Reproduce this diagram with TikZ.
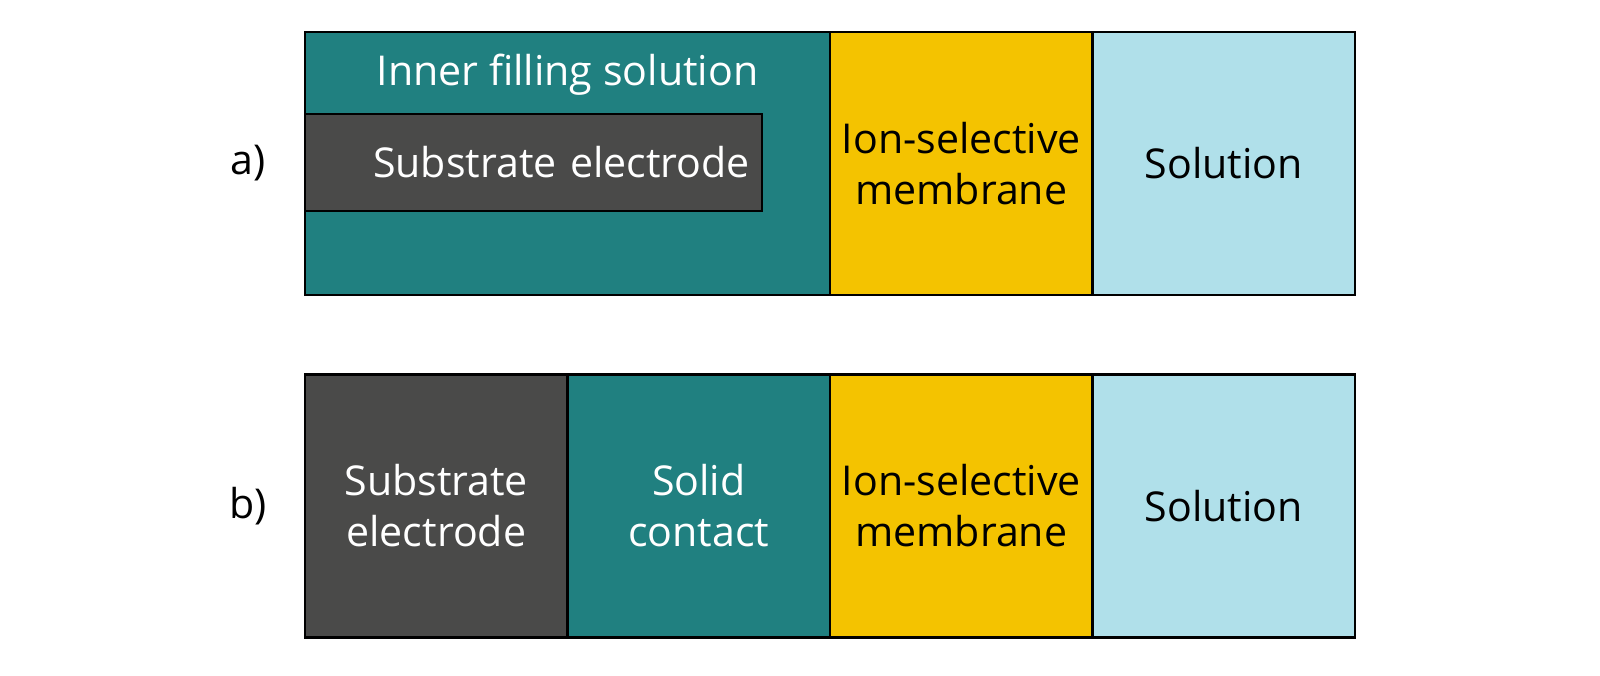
\documentclass[tikz,border=0pt]{standalone}
\usepackage{fontspec}
\setmainfont{Open Sans}
\usetikzlibrary{positioning}

\definecolor{fillteal}{RGB}{32,128,128}
\definecolor{fillgrey}{RGB}{74,74,73}
\definecolor{fillyellow}{RGB}{244,195,0}
\definecolor{fillblue}{RGB}{176,224,234}

\begin{document}
\begin{tikzpicture}[
        layer/.style={draw=black, line width=0.6pt, outer sep=0pt, inner sep=0pt,
            minimum width=2.625cm, minimum height=2.63cm, align=center,
            font=\fontsize{11.7}{14.5}\selectfont},
        darklayer/.style={layer, text=white},
        tag/.style={font=\fontsize{11.7}{14.5}\selectfont}
    ]
    \useasboundingbox (0,0) rectangle (16,6.75) ;

    % a) liquid contact
    \node[darklayer, fill=fillteal, minimum width=5.25cm, anchor=west] (innera) at (3.05,5.115) {} ;
    \node[layer, fill=fillyellow, right=0pt of innera] (isma) {Ion-selective\\membrane} ;
    \node[layer, fill=fillblue, right=0pt of isma] (sola) {Solution} ;
    \node[tag, text=white] (ifs) at ([yshift=-0.43cm]innera.north) {Inner filling solution} ;
    \node[darklayer, fill=fillgrey, minimum width=4.57cm, minimum height=0.97cm,
        text width=4.33cm, align=right, anchor=north west] (eleca)
        at ([yshift=-0.82cm]innera.north west) {Substrate electrode} ;
    \node[tag] (taga) at ([xshift=-0.57cm]innera.west) {a)} ;

    % b) solid contact
    \node[darklayer, fill=fillgrey, anchor=west] (elecb) at (3.05,1.69) {Substrate\\electrode} ;
    \node[darklayer, fill=fillteal, right=0pt of elecb] (contb) {Solid\\contact} ;
    \node[layer, fill=fillyellow, right=0pt of contb] (ismb) {Ion-selective\\membrane} ;
    \node[layer, fill=fillblue, right=0pt of ismb] (solb) {Solution} ;
    \node[tag] (tagb) at ([xshift=-0.57cm]elecb.west) {b)} ;

\end{tikzpicture}
\end{document}
